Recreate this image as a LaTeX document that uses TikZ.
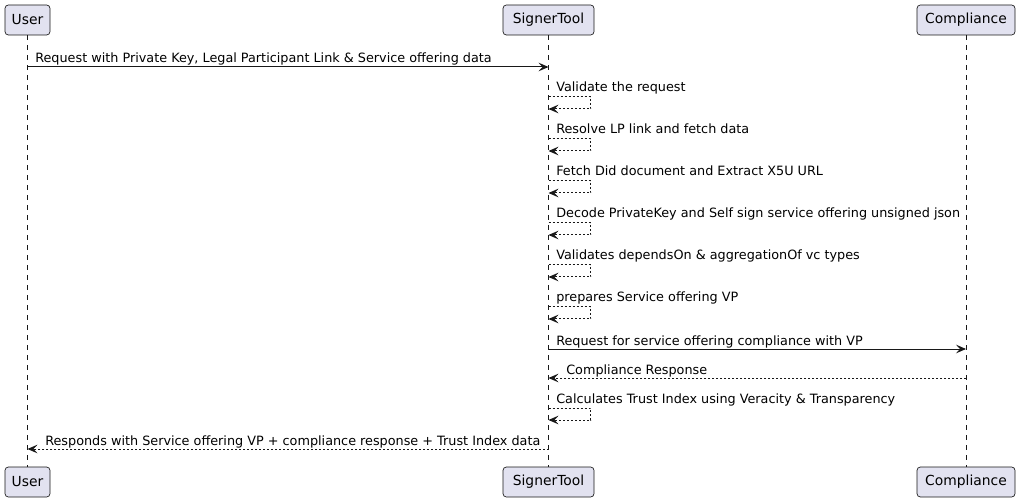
\documentclass[tikz,border=0pt]{standalone}
\usepackage{fontspec}
\setmainfont{DejaVu Sans}
\usetikzlibrary{arrows.meta}
\definecolor{partfill}{HTML}{E2E2F0}
\definecolor{ink}{HTML}{181818}
\tikzset{
  part/.style={draw=ink, fill=partfill, rounded corners=2.5pt, line width=0.5pt,
    minimum height=30*0.75pt, inner sep=0pt, font=\fontsize{10.4pt}{12pt}\selectfont, text=black},
  life/.style={draw=ink, line width=0.5pt, dash pattern=on 3.75pt off 3.75pt},
  msg/.style={draw=ink, line width=0.75pt, -{Stealth[length=7.5pt,width=6.5pt,inset=3pt]}},
  ret/.style={msg, dash pattern=on 1.5pt off 1.5pt},
  lbl/.style={anchor=base west, inner sep=0pt, font=\fontsize{9.6pt}{11pt}\selectfont, text=black}
}
\begin{document}
\begin{tikzpicture}[x=0.75pt, y=-0.75pt]
\useasboundingbox (0,0) rectangle (1021,502);
% participants
\node[part, minimum width=45*0.75pt] (ut) at (27.5,20) {User};
\node[part, minimum width=91*0.75pt] (st) at (548.5,20) {SignerTool};
\node[part, minimum width=98*0.75pt] (ct) at (966,20) {Compliance};
\node[part, minimum width=45*0.75pt] (ub) at (27.5,482) {User};
\node[part, minimum width=91*0.75pt] (sb) at (548.5,482) {SignerTool};
\node[part, minimum width=98*0.75pt] (cb) at (966,482) {Compliance};
% lifelines
\draw[life] (ut.south) -- (ub.north);
\draw[life] (st.south) -- (sb.north);
\draw[life] (ct.south) -- (cb.north);
% message 1
\draw[msg] (ut.south |- 0,67) -- (st.south |- 0,67);
\node[lbl] (m1) at (35,63) {Request with Private Key, Legal Participant Link \& Service offering data};
% self messages
\foreach \y/\t [count=\i] in {97/Validate the request,
  139/Resolve LP link and fetch data,
  181/Fetch Did document and Extract X5U URL,
  223/Decode PrivateKey and Self sign service offering unsigned json,
  265/Validates dependsOn \& aggregationOf vc types,
  307/prepares Service offering VP,
  408/Calculates Trust Index using Veracity \& Transparency}{
  \node[lbl] (s\i) at (556,\y-5) {\t};
  \draw[ret] (st.south |- 0,\y) -- ++(42,0) -- ++(0,12) -- (st.south |- 0,\y+12);
}
% compliance request
\draw[msg] (st.south |- 0,349) -- (ct.south |- 0,349);
\node[lbl] (m2) at (556,345) {Request for service offering compliance with VP};
% compliance response
\draw[ret] (ct.south |- 0,378) -- (st.south |- 0,378);
\node[lbl] (m3) at (566,374) {Compliance Response};
% final response
\draw[ret] (st.south |- 0,449) -- (ut.south |- 0,449);
\node[lbl] (m4) at (45,445) {Responds with Service offering VP + compliance response + Trust Index data};
\end{tikzpicture}
\end{document}
